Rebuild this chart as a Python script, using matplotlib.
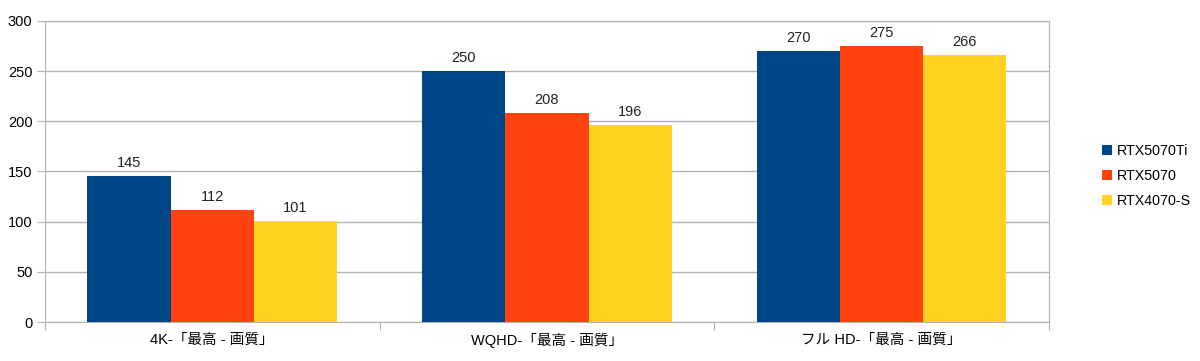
import numpy as np
import matplotlib.pyplot as plt

plt.rcParams['font.family'] = ['Liberation Sans', 'Noto Sans CJK JP', 'DejaVu Sans']

# データ
categories = ['4K-「最高 - 画質」', 'WQHD-「最高 - 画質」', 'フル HD-「最高 - 画質」']
series_names = ['RTX5070Ti', 'RTX5070', 'RTX4070-S']
rtx5070ti = [145, 250, 270]
rtx5070 = [112, 208, 275]
rtx4070s = [101, 196, 266]
colors = ['#004586', '#ff420e', '#ffd320']

fig = plt.figure(figsize=(12, 3.61), dpi=100)
ax = fig.add_axes([0.0375, 0.108, 0.8365, 0.834])

x = np.arange(len(categories)) + 0.5
w = 0.249
for i, (vals, name) in enumerate(zip([rtx5070ti, rtx5070, rtx4070s], series_names)):
    pos = x + (i - 1) * w
    bars = ax.bar(pos, vals, width=w, color=colors[i], label=name, zorder=3)
    for b, v in zip(bars, vals):
        ax.text(b.get_x() + b.get_width() / 2, v + 6, str(v), ha='center', va='bottom',
                fontsize=10.5, color='#222222', zorder=4)

ax.set_xlim(0, 3)
ax.set_ylim(0, 300)
ax.set_yticks(range(0, 301, 50))
ax.yaxis.grid(True, color='#b3b3b3', linewidth=1, zorder=0)
ax.set_xticks([0, 1, 2, 3])
ax.set_xticklabels([])
ax.set_xticks(x, minor=True)
ax.set_xticklabels(categories, minor=True, fontsize=10.5)
ax.tick_params(axis='x', which='minor', length=0, pad=8)
ax.tick_params(axis='x', which='major', length=6, color='#b3b3b3')
ax.tick_params(axis='y', length=6, color='#b3b3b3', labelsize=10.5, pad=3)
for s in ax.spines.values():
    s.set_color('#b3b3b3')

ax.legend(loc='center left', bbox_to_anchor=(1.04, 0.485), frameon=False, fontsize=10.3,
          handlelength=0.7, handleheight=0.7, handletextpad=0.35, labelspacing=0.75)

plt.savefig('out.png', dpi=100)
